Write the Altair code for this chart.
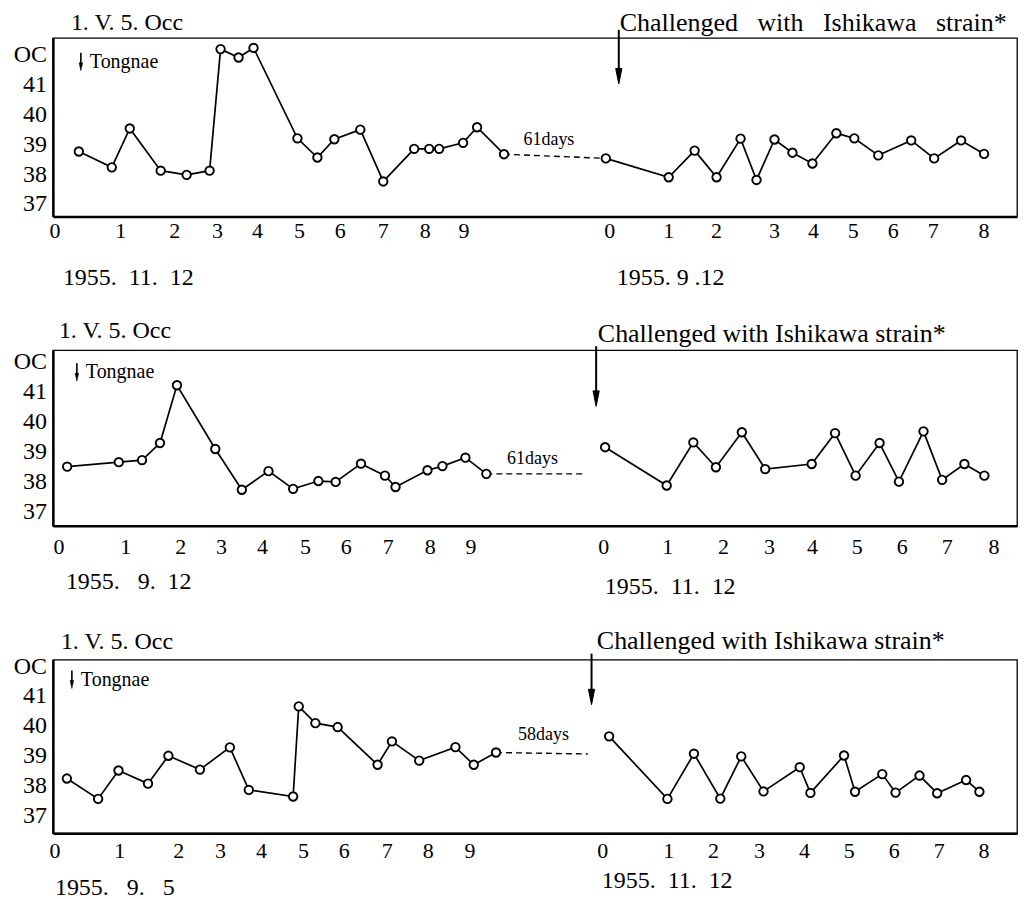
import altair as alt
import pandas as pd

FONT = "Liberation Serif"
W = 966

# ---------------- Panel 1 ----------------
p1_left_x = [26, 59, 77, 108, 134, 157, 168, 186, 201, 245, 265, 282, 308, 331, 362, 377, 387, 411, 425, 452]
p1_left_t = [38.77, 38.24, 39.54, 38.13, 37.99, 38.13, 42.19, 41.91, 42.23, 39.21, 38.57, 39.18, 39.5, 37.77,
             38.86, 38.86, 38.86, 39.06, 39.58, 38.68]
p1_right_x = [554, 617, 643, 665, 689, 705, 723, 741, 761, 785, 803, 827, 860, 883, 910, 933]
p1_right_t = [38.54, 37.91, 38.8, 37.91, 39.2, 37.82, 39.17, 38.73, 38.37, 39.38, 39.21, 38.64, 39.14, 38.54,
              39.14, 38.69]
p1_gap_x = [452, 554]
p1_gap_t = [38.68, 38.54]
p1_gap_label = "61days"
p1_gap_label_pos = [497, 39.17]
p1_tick_x = [2, 68, 122, 165, 205, 247, 288, 331, 373, 412, 558, 617, 665, 723, 762, 802, 842, 882, 933]
p1_dates = ["1955.\u00a0\u00a011.\u00a0\u00a012", "1955.\u00a09\u00a0.12"]
p1_arrow_x = 567

# ---------------- Panel 2 ----------------
p2_left_x = [14.3, 66, 89.3, 107.3, 124.3, 162.7, 189.3, 216, 240.7, 266, 283.3, 308.7, 332.7, 343.3, 375.3,
             390.3, 413.3, 434.3]
p2_left_t = [38.51, 38.66, 38.73, 39.3, 41.23, 39.1, 37.74, 38.36, 37.77, 38.03, 38.0, 38.61, 38.21, 37.83,
             38.39, 38.53, 38.81, 38.27]
p2_right_x = [553.3, 615, 641.7, 664.3, 690.3, 713.7, 760.3, 783.7, 804.3, 828.3, 847.7, 872.3, 891, 913.3, 933.3]
p2_right_t = [39.16, 37.88, 39.32, 38.49, 39.66, 38.43, 38.6, 39.63, 38.21, 39.3, 38.01, 39.69, 38.07, 38.6, 38.21]
p2_gap_x = [434.3, 531]
p2_gap_t = [38.27, 38.27]
p2_gap_label = "61days"
p2_gap_label_pos = [480.5, 38.77]
p2_tick_x = [6, 73, 128, 169, 210, 253, 294, 336, 378, 419, 552, 616, 672, 718, 761, 806, 851, 896, 943]
p2_dates = ["1955.\u00a0\u00a0\u00a09.\u00a0\u00a012", "1955.\u00a0\u00a011.\u00a0\u00a012"]
p2_arrow_x = 544.3

# ---------------- Panel 3 ----------------
p3_left_x = [14, 45.3, 65.7, 95.3, 115.7, 147.3, 177.3, 196.3, 240.7, 246.3, 263, 285.3, 325.3, 339.7, 367,
             403.3, 421.7, 444]
p3_left_t = [38.26, 37.58, 38.53, 38.09, 39.02, 38.56, 39.3, 37.88, 37.66, 40.67, 40.11, 39.98, 38.72, 39.5,
             38.86, 39.31, 38.72, 39.13]
p3_right_x = [557.3, 615.7, 642.3, 668.7, 689.7, 712, 748.3, 759, 792.7, 803.7, 831, 844.3, 868.3, 886, 915, 928.3]
p3_right_t = [39.67, 37.58, 39.09, 37.59, 39.0, 37.83, 38.64, 37.78, 39.03, 37.82, 38.41, 37.79, 38.36, 37.77,
              38.21, 37.82]
p3_gap_x = [444, 536]
p3_gap_t = [39.13, 39.08]
p3_gap_label = "58days"
p3_gap_label_pos = [491.5, 39.7]
p3_tick_x = [2, 67, 126, 168, 209, 251, 292, 335, 376, 418, 551, 617, 662, 708, 753, 798, 843, 888, 933]
p3_dates = ["1955.\u00a0\u00a0\u00a09.\u00a0\u00a0\u00a05", "1955.\u00a0\u00a011.\u00a0\u00a012"]
p3_arrow_x = 539.7

tick_labels = [str(i) for i in range(10)] + [str(i) for i in range(9)]
y_ticks = [37, 38, 39, 40, 41, 42]
y_tick_labels = ["37", "38", "39", "40", "41", "OC"]
title_text = "1. V. 5. Occ"
tongnae_text = "Tongnae"
challenge_text = "Challenged with Ishikawa strain*"
challenge_text_wide = "Challenged\u00a0\u00a0 with\u00a0\u00a0 Ishikawa\u00a0\u00a0 strain*"

one = pd.DataFrame({"k": [0]})


def label(text, x, y, size, align="left", font=FONT):
    return alt.Chart(one).mark_text(
        text=text, font=font, fontSize=size, align=align, baseline="middle", color="black"
    ).encode(x=alt.value(x), y=alt.value(y))


def panel(left_x, left_t, right_x, right_t, gap_x, gap_t, gap_label, gap_pos, tick_x, dates, arrow_x,
          H, ydom, lay):
    xsc = alt.Scale(domain=[0, W], nice=False, zero=False)
    ysc = alt.Scale(domain=ydom, nice=False, zero=False)
    X = alt.X("pos:Q", scale=xsc,
              axis=alt.Axis(labels=False, ticks=False, grid=False, title=None, domainWidth=2.5,
                            domainColor="black"))
    Y = alt.Y("temp:Q", scale=ysc,
              axis=alt.Axis(labels=False, ticks=False, grid=False, title=None, domainWidth=2.5,
                            domainColor="black"))
    Xp = alt.X("pos:Q", scale=xsc)
    Yp = alt.Y("temp:Q", scale=ysc)

    series = pd.DataFrame({
        "pos": list(left_x) + list(right_x),
        "temp": list(left_t) + list(right_t),
        "seg": ["before"] * len(left_x) + ["after"] * len(right_x),
    })
    gap = pd.DataFrame({"pos": gap_x, "temp": gap_t})
    gl = pd.DataFrame({"pos": [gap_pos[0]], "temp": [gap_pos[1]], "txt": [gap_label]})
    ticks = pd.DataFrame({"pos": tick_x, "lab": tick_labels})
    yt = pd.DataFrame({"temp": y_ticks, "lab": y_tick_labels})
    arrow = pd.DataFrame({"pos": [arrow_x]})

    line = alt.Chart(series).mark_line(color="black", strokeWidth=1.7).encode(x=X, y=Y, detail="seg:N")
    dash = alt.Chart(gap).mark_line(color="black", strokeWidth=1.4, strokeDash=[6, 4]).encode(x=Xp, y=Yp)
    pts = alt.Chart(series).mark_point(
        shape="circle", filled=True, fill="white", stroke="black", strokeWidth=1.9, size=72, opacity=1
    ).encode(x=Xp, y=Yp)
    gtxt = alt.Chart(gl).mark_text(font=FONT, fontSize=18, align="center", baseline="middle",
                                   color="black").encode(x=Xp, y=Yp, text="txt:N")
    tlab = alt.Chart(ticks).mark_text(font=FONT, fontSize=22, align="center", baseline="middle",
                                      color="black").encode(x=Xp, y=alt.value(H + lay["tick_dy"]),
                                                            text="lab:N")
    ylab = alt.Chart(yt).mark_text(font=FONT, fontSize=24, align="right", baseline="middle",
                                   color="black").encode(x=alt.value(-6), y=Yp, text="lab:N")
    shaft = alt.Chart(arrow).mark_rule(color="black", strokeWidth=2).encode(
        x=Xp, y=alt.value(lay["arrow_top"]), y2=alt.value(lay["arrow_tip"] - 12))
    head = alt.Chart(arrow).mark_point(
        shape="M -0.4 -1 L 0.4 -1 L 0 1 Z", filled=True, fill="black", stroke="black", strokeWidth=1,
        size=240, opacity=1
    ).encode(x=Xp, y=alt.value(lay["arrow_tip"] - 7.5))

    # small "Tongnae" down-arrow glyph drawn as rule + head
    tx, ty = lay["tong"]
    tong_shaft = alt.Chart(one).mark_rule(color="black", strokeWidth=1.6).encode(
        x=alt.value(tx + 3), y=alt.value(ty - 9), y2=alt.value(ty + 4))
    tong_head = alt.Chart(one).mark_point(
        shape="M -0.45 -1 L 0.45 -1 L 0 1 Z", filled=True, fill="black", stroke="black", strokeWidth=0.5,
        size=64, opacity=1
    ).encode(x=alt.value(tx + 3), y=alt.value(ty + 5))

    layers = [
        line, dash, pts, gtxt, tlab, ylab, shaft, head, tong_shaft, tong_head,
        label(title_text, lay["title"][0], lay["title"][1], 24),
        label(lay["ch_text"], lay["ch"][0], lay["ch"][1], 26),
        label(tongnae_text, tx + 12, ty, 20),
        label(dates[0], lay["d1"][0], lay["d1"][1], 24),
        label(dates[1], lay["d2"][0], lay["d2"][1], 24),
    ]
    return alt.layer(*layers).properties(width=W, height=H)


c1 = panel(p1_left_x, p1_left_t, p1_right_x, p1_right_t, p1_gap_x, p1_gap_t, p1_gap_label, p1_gap_label_pos,
           p1_tick_x, p1_dates, p1_arrow_x, 179, [36.6, 42.567],
           dict(tick_dy=15, arrow_top=-8, arrow_tip=46, title=(18, -15), ch=(568, -15),
                ch_text=challenge_text_wide, tong=(25, 24), d1=(10, 241), d2=(565, 241)))
c2 = panel(p2_left_x, p2_left_t, p2_right_x, p2_right_t, p2_gap_x, p2_gap_t, p2_gap_label, p2_gap_label_pos,
           p2_tick_x, p2_dates, p2_arrow_x, 176, [36.533, 42.4],
           dict(tick_dy=21, arrow_top=-4, arrow_tip=56, title=(6, -19), ch=(546, -16),
                ch_text=challenge_text, tong=(21, 22), d1=(13, 232), d2=(553, 237)))
c3 = panel(p3_left_x, p3_left_t, p3_right_x, p3_right_t, p3_gap_x, p3_gap_t, p3_gap_label, p3_gap_label_pos,
           p3_tick_x, p3_dates, p3_arrow_x, 174, [36.433, 42.233],
           dict(tick_dy=18, arrow_top=-6, arrow_tip=45, title=(8, -18), ch=(545, -19),
                ch_text=challenge_text, tong=(16, 20), d1=(2, 229), d2=(550, 222)))

chart = alt.vconcat(c1, c2, c3, spacing=134, bounds="flush").properties(
    padding={"left": 5, "top": 0, "right": 0, "bottom": 0},
    background="white",
).configure_view(stroke="black", strokeWidth=1.3).configure_axis(labelFont=FONT)

chart.save("out.html", embed_options={"renderer": "svg", "actions": False})
